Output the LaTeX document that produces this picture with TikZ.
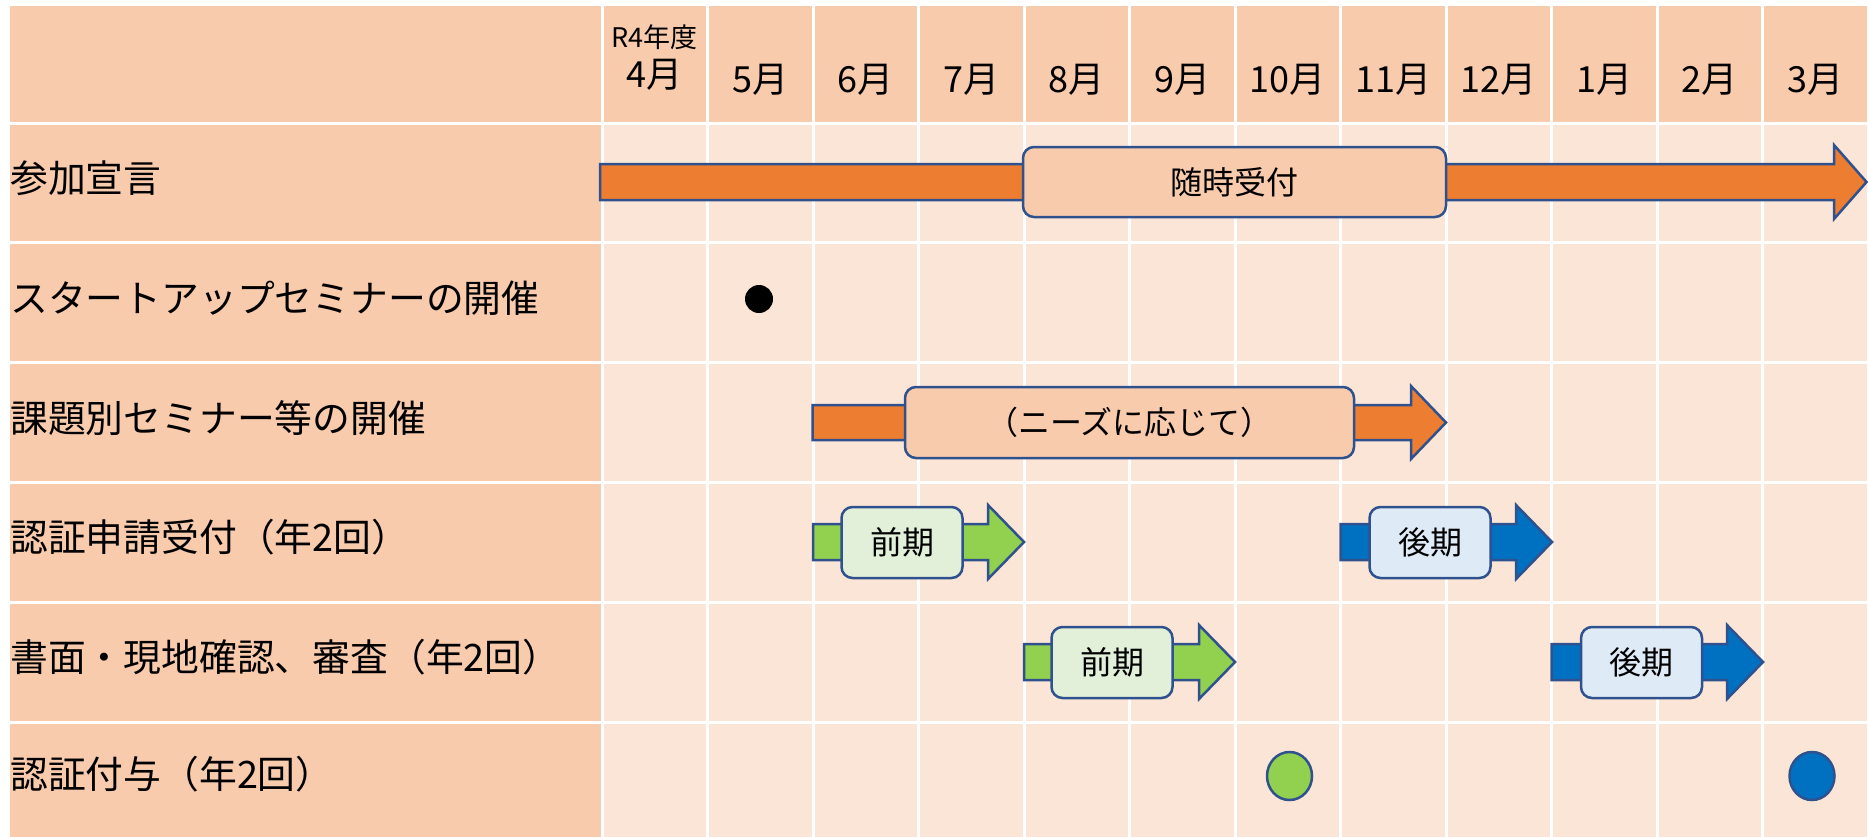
\documentclass[tikz,border=0pt]{standalone}
\usepackage{fontspec}
\setmainfont{Noto Sans CJK JP}
\definecolor{hdr}{HTML}{F8CBAD}
\definecolor{body}{HTML}{FBE5D6}
\definecolor{orng}{HTML}{ED7D31}
\definecolor{grn}{HTML}{92D050}
\definecolor{blu}{HTML}{0070C0}
\definecolor{lgrn}{HTML}{E2F0D9}
\definecolor{lblu}{HTML}{DEEBF7}
\definecolor{edge}{HTML}{2F528F}
\tikzset{
  rowlabel/.style={anchor=west, inner sep=0pt, font=\fontsize{37.8}{40}\selectfont},
  monthlabel/.style={inner sep=0pt, font=\fontsize{36}{38}\selectfont},
  pbox/.style={draw=edge, line width=2.5pt, rounded corners=11pt, inner sep=0pt,
    font=\fontsize{32}{36}\selectfont},
  barshape/.style={draw=edge, line width=2.5pt, line join=miter},
  dot/.style={draw=edge, line width=2.5pt, ellipse},
}
\newcommand{\ganttarrow}[7]{%
  \filldraw[barshape, fill=#7] (#1,{#2-#3}) -- (#4,{#2-#3}) -- (#4,{#2-#6}) -- (#5,#2)
    -- (#4,{#2+#6}) -- (#4,{#2+#3}) -- (#1,{#2+#3}) -- cycle;}
\usetikzlibrary{shapes.geometric}
\begin{document}
\begin{tikzpicture}[x=1pt,y=-1pt]
\useasboundingbox (0,0) rectangle (1868,836);
\fill[white] (0,0) rectangle (1868,836);
% grid cells
\foreach \yt/\yb [count=\r from 0] in {4/123, 123/242.8, 242.8/362.6, 362.6/482.4, 482.4/602.2, 602.2/722, 722/842}{
  \fill[hdr] (10,{\yt+1.5}) rectangle (600.5,{\yb-1.5});
  \foreach \c in {0,...,11}{
    \ifnum\r=0
      \fill[hdr] ({602+105.5*\c+1.5},{\yt+1.5}) rectangle ({602+105.5*(\c+1)-1.5},{\yb-1.5});
    \else
      \fill[body] ({602+105.5*\c+1.5},{\yt+1.5}) rectangle ({602+105.5*(\c+1)-1.5},{\yb-1.5});
    \fi
  }
}
% header
\node[inner sep=0pt, font=\fontsize{27}{29}\selectfont] (fy) at (654.5,37) {R4年度};
\node[monthlabel] (m4) at (654.5,75) {4月};
\foreach \mm [count=\i from 1] in {5,6,7,8,9,10,11,12,1,2,3}{
  \node[monthlabel] (m\mm) at ({602+105.5*(\i+0.5)},80) {\mm{}月};
}
% row labels
\node[rowlabel] (l1) at (10,178) {参加宣言};
\node[rowlabel] (l2) at (10,298) {スタートアップセミナーの開催};
\node[rowlabel] (l3) at (10,418) {課題別セミナー等の開催};
\node[rowlabel] (l4) at (10,537) {認証申請受付（年2回）};
\node[rowlabel] (l5) at (10,657) {書面・現地確認、審査（年2回）};
\node[rowlabel] (l6) at (10,774) {認証付与（年2回）};
% row 1
\ganttarrow{600}{182}{18}{1834}{1866.5}{37}{orng}
\node[pbox, fill=hdr, minimum width=423pt, minimum height=70pt] (uketsuke) at (1234.5,182) {随時受付};
% row 2
\fill[black] (759,299) circle (14);
% row 3
\ganttarrow{812.5}{422.5}{17.5}{1411}{1446}{36.5}{orng}
\node[pbox, fill=hdr, minimum width=449pt, minimum height=71pt] (needs) at (1129.5,422.5) {（ニーズに応じて）};
% row 4
\ganttarrow{813}{542}{18}{988}{1024}{37}{grn}
\node[pbox, fill=lgrn, minimum width=121pt, minimum height=71pt] (zenki1) at (902,542.5) {前期};
\ganttarrow{1340.5}{542}{18}{1516}{1552}{37}{blu}
\node[pbox, fill=lblu, minimum width=121pt, minimum height=71pt] (kouki1) at (1430,542.5) {後期};
% row 5
\ganttarrow{1024}{662}{18}{1199}{1235}{37}{grn}
\node[pbox, fill=lgrn, minimum width=121pt, minimum height=71pt] (zenki2) at (1112,662.5) {前期};
\ganttarrow{1551.5}{662}{18}{1727}{1763}{37}{blu}
\node[pbox, fill=lblu, minimum width=121pt, minimum height=71pt] (kouki2) at (1641.5,662.5) {後期};
% row 6
\node[dot, fill=grn, minimum width=45pt, minimum height=48pt, inner sep=0pt] (g6) at (1289.5,776) {};
\node[dot, fill=blu, minimum width=45pt, minimum height=48pt, inner sep=0pt] (b6) at (1812,776) {};
\end{tikzpicture}
\end{document}
